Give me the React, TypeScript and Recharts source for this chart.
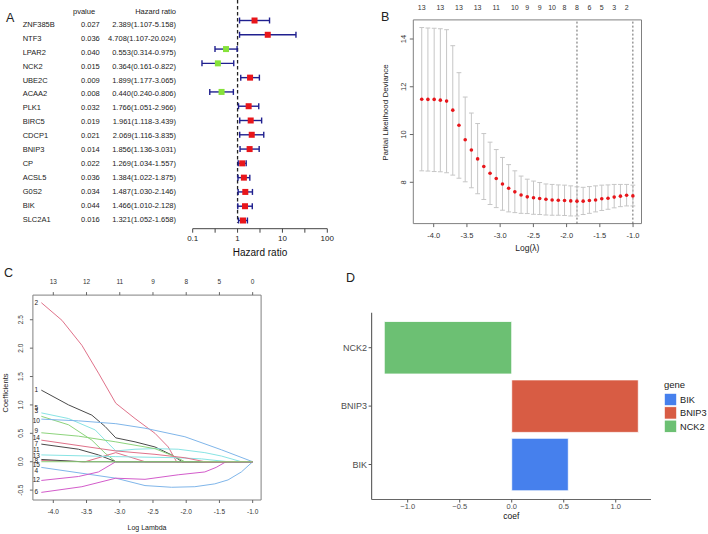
import React from 'react';
import {
  ScatterChart, Scatter, ComposedChart, Line, BarChart, Bar, Cell, XAxis, YAxis,
  ErrorBar, ReferenceLine, ReferenceArea, ReferenceDot, Label,
} from 'recharts';

const FONT = '"Liberation Sans", Arial, Helvetica, sans-serif';

// ---------- A: univariate cox forest plot ----------
const coxGenes = ['ZNF385B', 'NTF3', 'LPAR2', 'NCK2', 'UBE2C', 'ACAA2', 'PLK1', 'BIRC5', 'CDCP1', 'BNIP3', 'CP', 'ACSL5', 'G0S2', 'BIK', 'SLC2A1'];
const coxPvalue = [0.027, 0.036, 0.040, 0.015, 0.009, 0.008, 0.032, 0.019, 0.021, 0.014, 0.022, 0.036, 0.034, 0.044, 0.016];
const coxHR = [2.389, 4.708, 0.553, 0.364, 1.899, 0.440, 1.766, 1.961, 2.069, 1.856, 1.269, 1.384, 1.487, 1.466, 1.321];
const coxLow = [1.107, 1.107, 0.314, 0.161, 1.177, 0.240, 1.051, 1.118, 1.116, 1.136, 1.034, 1.022, 1.030, 1.010, 1.052];
const coxHigh = [5.158, 20.024, 0.975, 0.822, 3.065, 0.806, 2.966, 3.439, 3.835, 3.031, 1.557, 1.875, 2.146, 2.128, 1.658];
const hrTicks = [0.1, 0.316, 1, 3.16, 10, 31.6, 100];
const hrTickLabels = ['0.1', '', '1', '', '10', '', '100'];

// ---------- B: cross validation curve ----------
const cvLogLambda = [-4.180, -4.087, -3.993, -3.900, -3.806, -3.713, -3.620, -3.526, -3.433, -3.339, -3.246, -3.152, -3.059, -2.965, -2.872, -2.779, -2.685, -2.592, -2.498, -2.405, -2.311, -2.218, -2.125, -2.031, -1.938, -1.844, -1.751, -1.657, -1.564, -1.471, -1.377, -1.284, -1.190, -1.097, -1.003];
const cvMean = [11.48, 11.47, 11.47, 11.44, 11.40, 11.02, 10.39, 9.78, 9.35, 8.98, 8.66, 8.38, 8.16, 7.93, 7.75, 7.60, 7.47, 7.39, 7.35, 7.32, 7.29, 7.26, 7.25, 7.24, 7.22, 7.21, 7.21, 7.24, 7.26, 7.31, 7.33, 7.38, 7.42, 7.46, 7.43];
const cvUpper = [14.48, 14.46, 14.45, 14.43, 14.39, 13.72, 12.59, 11.57, 10.90, 10.46, 10.04, 9.68, 9.37, 9.04, 8.74, 8.48, 8.26, 8.13, 8.05, 7.99, 7.93, 7.91, 7.89, 7.88, 7.85, 7.81, 7.79, 7.82, 7.85, 7.88, 7.89, 7.91, 7.91, 7.91, 7.88];
const cvLower = [8.48, 8.47, 8.45, 8.44, 8.40, 8.30, 8.17, 8.02, 7.77, 7.52, 7.28, 7.07, 6.94, 6.83, 6.76, 6.73, 6.70, 6.69, 6.66, 6.65, 6.63, 6.62, 6.62, 6.61, 6.59, 6.59, 6.65, 6.70, 6.76, 6.82, 6.87, 6.93, 6.98, 7.01, 7.01];
const cvTopIdx = [0, 3, 6, 9, 12, 15, 17, 19, 21, 23, 25, 27, 29, 31, 33];
const cvTopNz = [13, 13, 13, 13, 11, 10, 9, 9, 10, 8, 8, 6, 5, 3, 2];
const cvMinIdx = 25;
const cv1seIdx = 34;

// ---------- C: lasso coefficient paths (log lambda, coef) ----------
type Pt = [number, number];
const coef1: Pt[] = [[-4.18, 1.26], [-3.77, 1.00], [-3.42, 0.82], [-3.22, 0.62], [-3.06, 0.42], [-2.77, 0.35], [-2.47, 0.26], [-2.22, 0.12], [-2.06, 0], [-1.0, 0]];
const coef2: Pt[] = [[-4.18, 2.80], [-3.87, 2.49], [-3.57, 2.05], [-3.32, 1.56], [-3.06, 1.03], [-2.77, 0.76], [-2.47, 0.50], [-2.27, 0.26], [-2.145, 0], [-1.0, 0]];
const coef3: Pt[] = [[-4.18, 0.80], [-3.77, 0.65], [-3.42, 0.38], [-3.22, 0.15], [-3.06, 0], [-1.0, 0]];
const coef4: Pt[] = [[-4.18, -0.10], [-3.06, -0.29], [-2.62, -0.42], [-2.22, -0.45], [-1.87, -0.44], [-1.57, -0.39], [-1.37, -0.32], [-1.17, -0.18], [-1.0, 0]];
const coef5: Pt[] = [[-4.18, 0.86], [-3.77, 0.76], [-3.37, 0.56], [-3.17, 0.32], [-3.06, 0.19], [-2.77, 0.22], [-2.47, 0.23], [-2.12, 0.22], [-1.72, 0.16], [-1.47, 0.10], [-1.17, 0], [-1.0, 0]];
const coef6: Pt[] = [[-4.18, -0.54], [-3.57, -0.44], [-3.06, -0.29], [-2.62, -0.31], [-2.12, -0.23], [-1.72, -0.18], [-1.55, -0.10], [-1.40, 0], [-1.0, 0]];
const coef7: Pt[] = [[-4.18, 0.31], [-3.62, 0.22], [-3.32, 0.12], [-3.06, 0], [-1.0, 0]];
const coef8: Pt[] = [[-4.18, 0.02], [-3.52, 0], [-3.06, 0.16], [-2.62, 0], [-1.0, 0]];
const coef9: Pt[] = [[-4.18, 0.51], [-3.62, 0.45], [-3.06, 0.35], [-2.47, 0.23], [-2.17, 0.09], [-2.02, 0], [-1.0, 0]];
const coef10: Pt[] = [[-4.18, 0.75], [-3.62, 0.72], [-3.06, 0.67], [-2.62, 0.59], [-2.02, 0.44], [-1.47, 0.21], [-1.0, 0]];
const coef11: Pt[] = [[-4.18, 0.12], [-3.06, 0.09], [-2.12, 0.07], [-1.77, 0.05], [-1.37, 0], [-1.0, 0]];
const coef12: Pt[] = [[-4.18, -0.33], [-3.62, -0.26], [-3.32, -0.18], [-3.06, 0], [-1.0, 0]];
const coef13: Pt[] = [[-4.18, 0.04], [-3.57, 0], [-1.0, 0]];
const coef14: Pt[] = [[-4.18, 0.38], [-3.06, 0.19], [-2.47, 0.13], [-2.02, 0.07], [-1.72, 0], [-1.0, 0]];
const coef15: Pt[] = [[-4.18, 0], [-1.0, 0]];
const coefPaths = [coef1, coef2, coef3, coef4, coef5, coef6, coef7, coef8, coef9, coef10, coef11, coef12, coef13, coef14, coef15];
const coefLabelY = [1.27, 2.80, 0.89, -0.15, 0.96, -0.52, 0.31, 0.02, 0.54, 0.73, 0.22, -0.32, 0.11, 0.43, -0.06];
const coefTopTicks = [-4, -3.5, -3, -2.5, -2, -1.5, -1];
const coefTopNz = [13, 12, 11, 9, 8, 5, 0];
const rPalette = ['#4a4a4a', '#E0728A', '#8DD47C', '#80B6EA', '#88E4E4', '#D35CCB'];

// ---------- D: multivariate coefficients ----------
const dGenes = ['NCK2', 'BNIP3', 'BIK'];
const dCoef = [-1.225, 1.217, 0.544];
const dColors = ['#6CC073', '#D85C44', '#4680ED'];

const rotTick = (fontSize: number, fmt: (v: number) => string) => (props: any) => {
  const { x, y, payload } = props;
  return (
    <text x={x} y={y} transform={`rotate(-90 ${x} ${y})`} textAnchor="middle" fontSize={fontSize} fill="#333" fontFamily={FONT}>
      {fmt(payload.value)}
    </text>
  );
};

function ForestPlot() {
  const data = coxGenes.map((g, i) => ({
    gene: g,
    x: coxHR[i],
    y: i,
    err: [coxHR[i] - coxLow[i], coxHigh[i] - coxHR[i]],
    color: coxHR[i] > 1 ? '#E8161B' : '#86E23A',
  }));
  return (
    <ScatterChart width={340} height={262} margin={{ top: 0, right: 12.7, bottom: 0, left: 192.7 }}>
      <XAxis
        dataKey="x" type="number" scale="log" domain={[0.1, 100]} allowDataOverflow
        ticks={hrTicks} tickFormatter={(v: number) => hrTickLabels[hrTicks.indexOf(v)] ?? ''}
        height={33.3} tickSize={4} tickMargin={2.8} stroke="#444"
        tick={{ fontSize: 8, fill: '#222', fontFamily: FONT }}
      >
        <Label value="Hazard ratio" position="insideBottom" offset={6.5} style={{ fontSize: 10, fill: '#111', fontFamily: FONT }} />
      </XAxis>
      <YAxis dataKey="y" type="number" domain={[-1.435, 14.574]} reversed hide allowDataOverflow />
      <ReferenceLine segment={[{ x: 1, y: -1.43 }, { x: 1, y: 14.15 }]} stroke="#222" strokeWidth={1.3} strokeDasharray="3.5 2.5" />
      <Scatter
        data={data} isAnimationActive={false}
        shape={(p: any) => <rect x={p.cx - 3} y={p.cy - 3} width={6} height={6} fill={p.payload.color} />}
      >
        <ErrorBar dataKey="err" direction="x" width={3} stroke="#20208f" strokeWidth={1.4} />
      </Scatter>
    </ScatterChart>
  );
}

function CvPlot() {
  const data = cvLogLambda.map((x, i) => ({ x, y: cvMean[i], err: [cvMean[i] - cvLower[i], cvUpper[i] - cvMean[i]] }));
  const xDom = [-4.307, -0.873];
  const yDom = [6.27, 14.8];
  const topTicks = cvTopIdx.map((i) => cvLogLambda[i]);
  return (
    <ScatterChart width={290} height={262} margin={{ top: 0, right: 18.5, bottom: 0, left: 0 }}>
      <XAxis
        xAxisId="top" orientation="top" dataKey="x" type="number" domain={xDom} allowDataOverflow
        ticks={topTicks} tickFormatter={(v: number) => String(cvTopNz[topTicks.indexOf(v)] ?? '')}
        height={19.9} axisLine={false} tickLine={false} tickSize={0} tickMargin={10}
        tick={{ fontSize: 7, fill: '#333', fontFamily: FONT }}
      />
      <XAxis
        dataKey="x" type="number" domain={xDom} allowDataOverflow
        ticks={[-4, -3.5, -3, -2.5, -2, -1.5, -1]} tickFormatter={(v: number) => v.toFixed(1)}
        height={38.4} axisLine={false} tickSize={3.5} tickMargin={5.3} stroke="#666"
        tick={{ fontSize: 7.5, fill: '#333', fontFamily: FONT }}
      >
        <Label value="Log(λ)" position="insideBottom" offset={11.2} style={{ fontSize: 8.5, fill: '#222', fontFamily: FONT }} />
      </XAxis>
      <YAxis
        dataKey="y" type="number" domain={yDom} allowDataOverflow ticks={[8, 10, 12, 14]}
        width={43.3} axisLine={false} tickSize={3.5} tickMargin={4.1} stroke="#666"
        tick={rotTick(7.5, (v) => String(v))}
      />
      <ReferenceArea x1={xDom[0]} x2={xDom[1]} y1={yDom[0]} y2={yDom[1]} fill="none" stroke="#808080" strokeWidth={1} />
      <ReferenceLine x={cvLogLambda[cvMinIdx]} stroke="#555" strokeWidth={0.9} strokeDasharray="2 2" />
      <ReferenceLine x={cvLogLambda[cv1seIdx]} stroke="#555" strokeWidth={0.9} strokeDasharray="2 2" />
      {/* invisible series so that the top (nonzero count) axis gets drawn */}
      <Scatter xAxisId="top" data={data} isAnimationActive={false} shape={() => <g />} />
      <Scatter
        data={data} isAnimationActive={false}
        shape={(p: any) => <circle cx={p.cx} cy={p.cy} r={1.8} fill="#E8161B" />}
      >
        <ErrorBar dataKey="err" direction="y" width={2.4} stroke="#c6c6c6" strokeWidth={1} />
      </Scatter>
    </ScatterChart>
  );
}

function CoefPlot() {
  const xDom = [-4.307, -0.873];
  const yDom = [-0.674, 2.934];
  return (
    <ComposedChart width={280} height={264} margin={{ top: 0, right: 18.9, bottom: 0, left: 0 }}>
      <XAxis
        xAxisId="top" orientation="top" dataKey="x" type="number" domain={xDom} allowDataOverflow
        ticks={coefTopTicks} tickFormatter={(v: number) => String(coefTopNz[coefTopTicks.indexOf(v)] ?? '')}
        height={25.1} axisLine={false} tickSize={3} tickMargin={7.8} stroke="#666"
        tick={{ fontSize: 6.5, fill: '#333', fontFamily: FONT }}
      />
      <XAxis
        dataKey="x" type="number" domain={xDom} allowDataOverflow
        ticks={[-4, -3.5, -3, -2.5, -2, -1.5, -1]} tickFormatter={(v: number) => v.toFixed(1)}
        height={34} axisLine={false} tickSize={3} tickMargin={6.4} stroke="#666"
        tick={{ fontSize: 6.5, fill: '#333', fontFamily: FONT }}
      >
        <Label value="Log Lambda" position="insideBottom" offset={4.5} style={{ fontSize: 7, fill: '#222', fontFamily: FONT }} />
      </XAxis>
      <YAxis
        type="number" domain={yDom} allowDataOverflow ticks={[-0.5, 0, 0.5, 1, 1.5, 2, 2.5]}
        width={32.9} axisLine={false} tickSize={3} tickMargin={6.9} stroke="#666"
        tick={rotTick(6.5, (v) => v.toFixed(1))}
      />
      <ReferenceArea x1={xDom[0]} x2={xDom[1]} y1={yDom[0]} y2={yDom[1]} fill="none" stroke="#808080" strokeWidth={1} />
      {/* invisible series so that the top (nonzero count) axis gets drawn */}
      <Line
        xAxisId="top" data={coef15.map(([x, y]) => ({ x, y }))} dataKey="y"
        stroke="none" dot={false} activeDot={false} isAnimationActive={false}
      />
      {coefPaths.map((path, i) => (
        <Line
          key={`v${i + 1}`} data={path.map(([x, y]) => ({ x, y }))} dataKey="y" type="linear"
          stroke={rPalette[i % 6]} strokeWidth={1} dot={false} activeDot={false} isAnimationActive={false}
        />
      ))}
      {coefLabelY.map((y, i) => (
        <ReferenceDot
          key={`l${i + 1}`} x={-4.255} y={y} r={0} fill="none" stroke="none"
          label={{ value: String(i + 1), position: 'center', fontSize: 6.5, fill: '#222', fontFamily: FONT }}
        />
      ))}
    </ComposedChart>
  );
}

function CoefBar() {
  const data = dGenes.map((g, i) => ({ gene: g, coef: dCoef[i] }));
  return (
    <BarChart layout="vertical" width={330} height={234} data={data} margin={{ top: 12.7, right: 9, bottom: 0, left: 0 }}>
      <XAxis
        type="number" domain={[-1.347, 1.339]} allowDataOverflow ticks={[-1, -0.5, 0, 0.5, 1]}
        tickFormatter={(v: number) => (v < 0 ? `\u2212${Math.abs(v).toFixed(1)}` : v.toFixed(1))}
        height={34.5} tickSize={3} tickMargin={1.6} stroke="#555"
        axisLine={{ stroke: '#666', strokeWidth: 1.2 }}
        tick={{ fontSize: 7.5, fill: '#4d4d4d', fontFamily: FONT }}
      >
        <Label value="coef" position="insideBottom" offset={15} style={{ fontSize: 8.5, fill: '#111', fontFamily: FONT }} />
      </XAxis>
      <YAxis
        type="category" dataKey="gene" width={41.6} padding={{ top: 5.8, bottom: 5.8 }}
        tickSize={3} tickMargin={1.5} stroke="#555" axisLine={{ stroke: '#666', strokeWidth: 1.2 }}
        tick={{ fontSize: 9, fill: '#4d4d4d', fontFamily: FONT }}
      />
      <Bar dataKey="coef" barSize={52.5} stroke="#ffffff" strokeWidth={0.8} isAnimationActive={false}>
        {dGenes.map((g, i) => <Cell key={g} fill={dColors[i]} />)}
      </Bar>
    </BarChart>
  );
}

function Overlay() {
  const t = { fontFamily: FONT, fill: '#222' };
  const legendGenes = [...dGenes].sort();
  return (
    <svg width={708} height={534} style={{ position: 'absolute', left: 0, top: 0, pointerEvents: 'none' }}>
      <text x={6} y={22} fontSize={12.5} {...t}>A</text>
      <text x={381} y={21} fontSize={12.5} {...t}>B</text>
      <text x={4} y={277} fontSize={12.5} {...t}>C</text>
      <text x={346} y={282} fontSize={12.5} {...t}>D</text>

      <text x={73} y={14.4} fontSize={7.5} {...t}>pvalue</text>
      <text x={176} y={14.4} fontSize={7.5} textAnchor="end" {...t}>Hazard ratio</text>
      {coxGenes.map((g, i) => {
        const y = 24 + 13.95 * i + 2.7;
        return (
          <g key={g}>
            <text x={22.7} y={y} fontSize={7.5} {...t}>{g}</text>
            <text x={81} y={y} fontSize={7.5} {...t}>{coxPvalue[i].toFixed(3)}</text>
            <text x={176} y={y} fontSize={7.5} textAnchor="end" {...t}>
              {`${coxHR[i].toFixed(3)}(${coxLow[i].toFixed(3)}-${coxHigh[i].toFixed(3)})`}
            </text>
          </g>
        );
      })}

      <text x={388} y={112.5} fontSize={8} textAnchor="middle" transform="rotate(-90 388 112.5)" {...t}>Partial Likelihood Deviance</text>
      <text x={7.7} y={393} fontSize={7.5} textAnchor="middle" transform="rotate(-90 7.7 393)" {...t}>Coefficients</text>

      <text x={664} y={388.3} fontSize={9.5} {...t}>gene</text>
      {legendGenes.map((g, k) => {
        const y0 = 393.3 + 13.4 * k;
        return (
          <g key={g}>
            <rect x={664.3} y={y0} width={12.4} height={12.4} fill={dColors[dGenes.indexOf(g)]} stroke="#fff" strokeWidth={0.8} />
            <text x={680} y={y0 + 9.4} fontSize={9.2} {...t}>{g}</text>
          </g>
        );
      })}
    </svg>
  );
}

export default function App() {
  return (
    <div style={{ position: 'absolute', left: 0, top: 0, width: 708, height: 534, background: '#fff', overflow: 'hidden', fontFamily: FONT }}>
      <div style={{ position: 'absolute', left: 0, top: 0 }}><ForestPlot /></div>
      <div style={{ position: 'absolute', left: 370, top: 0 }}><CvPlot /></div>
      <div style={{ position: 'absolute', left: 0, top: 270 }}><CoefPlot /></div>
      <div style={{ position: 'absolute', left: 330, top: 300 }}><CoefBar /></div>
      <Overlay />
    </div>
  );
}
